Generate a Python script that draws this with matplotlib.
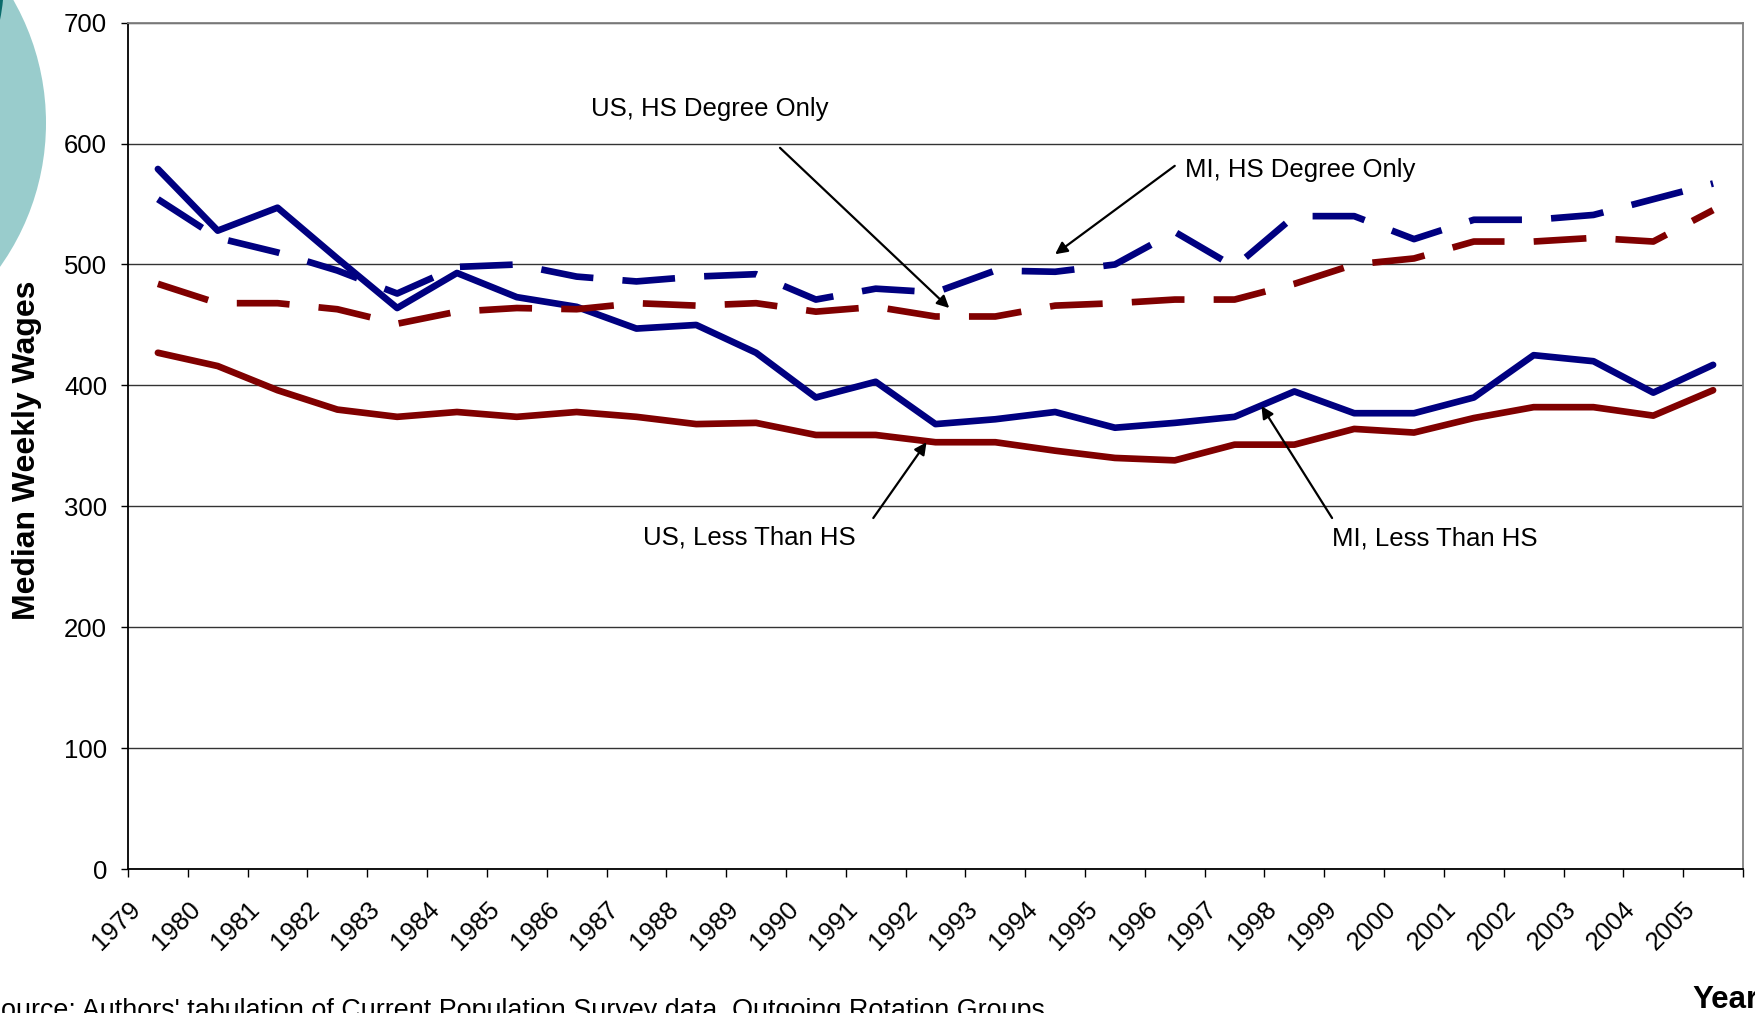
import matplotlib
matplotlib.use("Agg")
import matplotlib.pyplot as plt
from matplotlib.patches import Ellipse
from matplotlib.transforms import ScaledTranslation
from matplotlib.ticker import FixedLocator, MultipleLocator

plt.rcParams['font.family'] = ['Liberation Sans', 'DejaVu Sans']

years = [str(y) for y in range(1979, 2006)]

mi_less_hs = [579, 528, 547, 505, 464, 493, 473, 465, 447, 450, 427, 390, 403, 368,
              372, 378, 365, 369, 374, 395, 377, 377, 390, 425, 420, 394, 417]
us_less_hs = [427, 416, 396, 380, 374, 378, 374, 378, 374, 368, 369, 359, 359, 353,
              353, 346, 340, 338, 351, 351, 364, 361, 373, 382, 382, 375, 396]
mi_hs_only = [554, 522, 510, 495, 476, 498, 500, 490, 486, 490, 492, 471, 480, 477,
              495, 494, 500, 527, 498, 540, 540, 521, 537, 537, 541, 554, 567]
us_hs_only = [484, 468, 468, 463, 451, 461, 464, 463, 468, 466, 468, 461, 465, 457,
              457, 466, 468, 471, 471, 484, 500, 505, 519, 519, 522, 519, 545]

y_ticks = [0, 100, 200, 300, 400, 500, 600, 700]

BLUE = '#000080'
RED = '#800000'

W, H = 1755, 1013
fig = plt.figure(figsize=(W / 100, H / 100), dpi=100)

# decorative circles (slide background)
fig.add_artist(Ellipse((-202 / W, (H - 123) / H), 2 * 248 / W, 2 * 248 / H,
                       transform=fig.transFigure, facecolor='#99CCCC',
                       edgecolor='none', zorder=0))
fig.add_artist(Ellipse((-198.5 / W, (H + 20) / H), 2 * 202.5 / W, 2 * 202.5 / H,
                       transform=fig.transFigure, facecolor='#0B6B6B',
                       edgecolor='none', zorder=1))

ax = fig.add_axes([128 / W, (H - 869) / H, (1743 - 128) / W, (869 - 22.7) / H])

x = list(range(len(years)))
lw = 4.8
dash = (38 / lw, 21 / lw)
ax.plot(x, mi_less_hs, color=BLUE, lw=lw, solid_capstyle='round', zorder=3)
ax.plot(x, us_less_hs, color=RED, lw=lw, solid_capstyle='round', zorder=3)
ax.plot(x, mi_hs_only, color=BLUE, lw=lw, linestyle=(0, dash),
        dash_capstyle='butt', zorder=3)
ax.plot(x, us_hs_only, color=RED, lw=lw, linestyle=(0, dash),
        dash_capstyle='butt', zorder=3)

ax.set_xlim(-0.5, len(years) - 0.5)
ax.set_ylim(0, 700)

# gridlines
ax.yaxis.set_major_locator(FixedLocator(y_ticks))
ax.grid(axis='y', color='#333333', lw=1.0, zorder=1)
ax.set_axisbelow(True)

# spines
for s in ['left', 'bottom']:
    ax.spines[s].set_color('black')
    ax.spines[s].set_linewidth(1.3)
for s in ['top', 'right']:
    ax.spines[s].set_color('#808080')
    ax.spines[s].set_linewidth(1.3)

# y ticks
ax.tick_params(axis='y', which='major', direction='out', length=5, width=1,
               labelsize=18.5, pad=10, color='black')

# x ticks: labels at category centres, tick marks at boundaries
ax.set_xticks(x)
ax.set_xticklabels(years, rotation=45, ha='right', va='top', fontsize=18.5)
ax.tick_params(axis='x', which='major', length=0, pad=20)
ax.xaxis.set_minor_locator(MultipleLocator(1, offset=0.5))
ax.tick_params(axis='x', which='minor', direction='out', length=6, width=1,
               color='black')
offset = ScaledTranslation(-13 / 100, 0, fig.dpi_scale_trans)
for lab in ax.get_xticklabels():
    lab.set_transform(lab.get_transform() + offset)

# annotations
txt_kw = dict(fontsize=18.5, color='black', zorder=5)
arrow_kw = dict(arrowstyle='-|>', color='black', lw=1.6, mutation_scale=18,
                shrinkA=0, shrinkB=0)

ax.text(9.22, 629, 'US, HS Degree Only', ha='center', va='center', **txt_kw)
ax.annotate('', xy=(13.23, 464), xytext=(10.4, 596.5), arrowprops=arrow_kw, zorder=5)

ax.text(17.17, 578, 'MI, HS Degree Only', ha='left', va='center', **txt_kw)
ax.annotate('', xy=(15.0, 508.5), xytext=(17.0, 581.6), arrowprops=arrow_kw, zorder=5)

ax.text(9.88, 274.5, 'US, Less Than HS', ha='center', va='center', **txt_kw)
ax.annotate('', xy=(12.85, 353), xytext=(11.96, 290.3), arrowprops=arrow_kw, zorder=5)

ax.text(21.35, 273.7, 'MI, Less Than HS', ha='center', va='center', **txt_kw)
ax.annotate('', xy=(18.45, 382.9), xytext=(19.63, 290.3), arrowprops=arrow_kw, zorder=5)

# axis titles
fig.text(27 / W, 1 - 450 / H, 'Median Weekly Wages', rotation=90, ha='center',
         va='center', fontsize=23, fontweight='bold')
fig.text(1692 / W, (H - 1008) / H, 'Year', ha='left', va='baseline',
         fontsize=22.5, fontweight='bold')

# source note (partially cut off at the edge, as in the original)
fig.text(-17 / W, (H - 1018) / H,
         "Source: Authors' tabulation of Current Population Survey data, Outgoing Rotation Groups",
         ha='left', va='baseline', fontsize=19.4)

fig.savefig('out.png', dpi=100)
